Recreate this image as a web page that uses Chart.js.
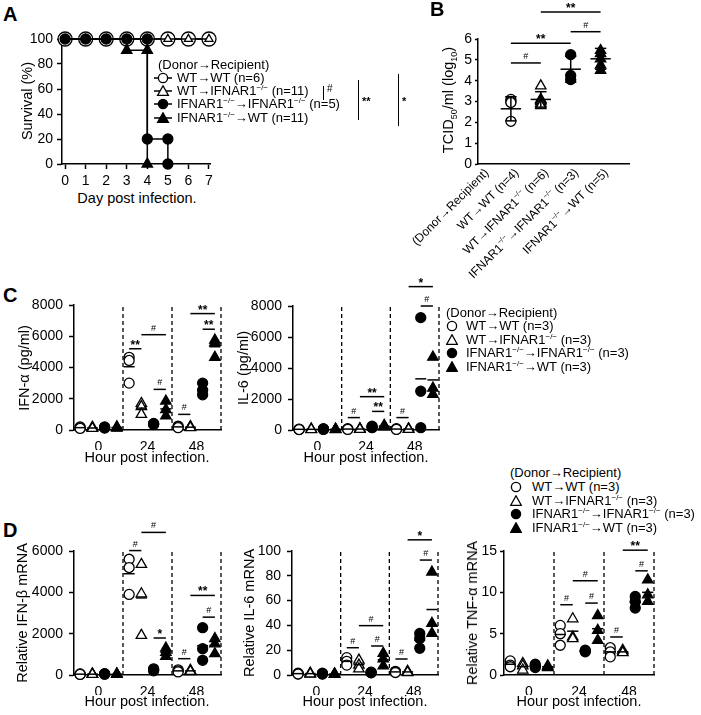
<!DOCTYPE html>
<html>
<head>
<meta charset="utf-8">
<script src="https://cdn.jsdelivr.net/npm/chart.js@4.4.1/dist/chart.umd.min.js"></script>
<style>
  body { margin: 0; background: #fff; }
  #fig { position: relative; width: 701px; height: 715px; overflow: hidden;
         font-family: 'Liberation Sans', Arial, sans-serif; font-size: 13px; color: #000; }
  #fig canvas { position: absolute; }
  .t { position: absolute; white-space: nowrap; line-height: 14px; }
  .yt { position: absolute; white-space: nowrap; line-height: 16px; font-size: 14.5px; transform: translate(-50%, -50%) rotate(-90deg); }
  .xt { position: absolute; white-space: nowrap; line-height: 16px; font-size: 14.5px; transform: translate(-50%, -50%); }
  .panel { position: absolute; font-weight: bold; font-size: 20px; line-height: 20px; }
  sup { font-size: 8px; vertical-align: 0; position: relative; top: -5px; }
  sub { font-size: 9px; vertical-align: 0; position: relative; top: 4px; }
  .sym { position: absolute; }
  .bar { position: absolute; border-left: 1.5px solid #000; }
  .star { position: absolute; font-size: 10px; line-height: 10px; }
  .star.b { font-weight: bold; font-size: 11px; }
</style>
</head>
<body>
<div id="fig"></div>
<script>
// ---- A: survival (%) after infection ----
const days = [0, 1, 2, 3, 4, 5, 6, 7];
const survWtWt = [100, 100, 100, 100, 100, 100, 100, 100];
const survWtKo = [100, 100, 100, 100, 100, 100, 100, 100];
const survKoKoDay = [0, 1, 2, 3, 4, 4, 5, 5];
const survKoKo = [100, 100, 100, 100, 100, 20, 20, 0];
const survKoWtDay = [0, 1, 2, 3, 3, 4, 4];
const survKoWt = [100, 100, 100, 100, 91, 91, 0];
const survLegend = ["WT→WT (n=6)", "WT→IFNAR1{−/−} (n=11)", "IFNAR1{−/−}→IFNAR1{−/−} (n=5)", "IFNAR1{−/−}→WT (n=11)"];

// ---- B: TCID50/ml (log10) ----
const titerCats = ["(Donor→Recipient)", "WT→WT (n=4)", "WT→IFNAR1{−/−} (n=6)", "IFNAR1{−/−}→IFNAR1{−/−} (n=3)", "IFNAR1{−/−}→WT (n=5)"];
const titerWtWt = [3.1, 3.0, 2.95, 2.05];
const titerWtKo = [3.75, 3.1, 3.05, 3.0, 2.9, 2.8];
const titerKoKo = [5.25, 4.25, 4.05];
const titerKoWt = [5.45, 5.3, 5.05, 4.75, 4.5];
const titerMean = [2.65, 3.1, 4.55, 5.05];
const titerSd = [0.58, 0.37, 0.62, 0.5];
const titerSig = [[1, 2, 4.85, "#"], [1, 3, 5.8, "**"], [3, 4, 6.35, "#"], [2, 4, 7.3, "**"]];

// ---- C / D: per group, values at 0 / 24 / 48 h ----
const hours = ["0", "24", "48"];
const groupLegend = ["WT→WT (n=3)", "WT→IFNAR1{−/−} (n=3)", "IFNAR1{−/−}→IFNAR1{−/−} (n=3)", "IFNAR1{−/−}→WT (n=3)"];

const ifnaWtWt = [[200, 150, 100], [4650, 4450, 3000], [250, 200, 150]];
const ifnaWtKo = [[180, 120, 100], [1700, 1500, 1000], [220, 180, 150]];
const ifnaKoKo = [[200, 160, 120], [420, 380, 350], [3000, 2550, 2250]];
const ifnaKoWt = [[200, 150, 120], [1850, 1300, 900], [5750, 5600, 4650]];
const ifnaMean = [[150, 4050, 200], [130, 1400, 180], [160, 380, 2600], [160, 1350, 5330]];
const ifnaSig = [[1, 0, 1, 5200, "**"], [1, 1, 3, 6100, "#"], [1, 2, 3, 2600, "#"], [2, 0, 1, 1000, "#"], [2, 1, 3, 7450, "**"], [2, 2, 3, 6450, "**"]];

const il6WtWt = [[60, 40, 30], [80, 60, 40], [80, 60, 40]];
const il6WtKo = [[60, 40, 30], [80, 60, 40], [80, 60, 40]];
const il6KoKo = [[80, 60, 40], [250, 200, 150], [7250, 2500, 150]];
const il6KoWt = [[60, 40, 30], [300, 250, 200], [4700, 2700, 2300]];
const il6Mean = [[45, 60, 60], [45, 60, 60], [60, 200, 3300], [45, 250, 3230]];
const il6Sig = [[1, 0, 1, 800, "#"], [1, 1, 3, 2150, "**"], [1, 2, 3, 1200, "**"], [2, 0, 1, 800, "#"], [2, 1, 3, 9250, "*"], [2, 2, 3, 8000, "#"]];

const ifnbWtWt = [[50, 40, 30], [5600, 5200, 3900], [250, 200, 150]];
const ifnbWtKo = [[50, 40, 30], [5350, 3930, 1920], [230, 200, 170]];
const ifnbKoKo = [[60, 50, 40], [300, 250, 200], [2290, 1270, 710]];
const ifnbKoWt = [[50, 40, 30], [1300, 1100, 900], [1760, 1510, 1030]];
const ifnbMean = [[40, 4900, 200], [40, 3730, 200], [50, 250, 1420], [40, 1100, 1430]];
const ifnbSig = [[1, 0, 1, 6020, "#"], [1, 1, 3, 6900, "#"], [1, 2, 3, 1790, "*"], [2, 0, 1, 790, "#"], [2, 1, 3, 3850, "**"], [2, 2, 3, 2800, "#"]];

const il6mWtWt = [[1.5, 1, 0.8], [14, 11, 8], [3, 2.5, 2]];
const il6mWtKo = [[1.5, 1, 0.8], [12, 8, 5], [3, 2.5, 2]];
const il6mKoKo = [[1.5, 1, 0.8], [2.2, 2, 1.8], [33.5, 29.5, 21.5]];
const il6mKoWt = [[1, 0.8, 0.6], [17.5, 13, 7.3], [83, 41.7, 33.6]];
const il6mMean = [[1.1, 11, 2.5], [1.1, 8.3, 2.5], [1.1, 2, 28], [0.8, 12.3, 52.8]];
const il6mSig = [[1, 0, 1, 22, "#"], [1, 1, 3, 39.8, "#"], [1, 2, 3, 23.4, "#"], [2, 0, 1, 12.9, "#"], [2, 1, 3, 109, "*"], [2, 2, 3, 92.7, "#"]];

const tnfWtWt = [[1.7, 1.2, 1.0], [6.0, 5.0, 3.6], [3.3, 2.8, 2.2]];
const tnfWtKo = [[1.4, 1.1, 0.6], [6.8, 4.6, 4.4], [3.0, 2.8, 2.7]];
const tnfKoKo = [[1.3, 1.1, 0.9], [3.0, 2.9, 2.8], [9.5, 8.9, 8.1]];
const tnfKoWt = [[1.1, 1.0, 0.9], [7.2, 5.4, 4.2], [11.5, 9.7, 8.9]];
const tnfMean = [[1.3, 4.9, 2.8], [1.0, 5.3, 2.8], [1.1, 2.9, 8.8], [1.0, 5.6, 10.0]];
const tnfSig = [[1, 0, 1, 8.5, "#"], [1, 1, 3, 11.4, "#"], [1, 2, 3, 8.7, "#"], [2, 0, 1, 4.6, "#"], [2, 1, 3, 15.1, "**"], [2, 2, 3, 12.6, "#"]];

// marker look of the four donor→recipient groups
const styles = [
  { shape: "circle", fill: false },
  { shape: "triangle", fill: false },
  { shape: "circle", fill: true },
  { shape: "triangle", fill: true },
];

const FONT = "'Liberation Sans', Arial, sans-serif";
Chart.defaults.font.family = FONT;
Chart.defaults.font.size = 14;
Chart.defaults.color = "#000";

const fig = document.getElementById("fig");

function rich(str) {
  return str.replace(/\{([^}]*)\}/g, "<sup>$1</sup>");
}

function addText(cls, html, left, top) {
  const d = document.createElement("div");
  d.className = cls;
  d.innerHTML = html;
  d.style.left = left + "px";
  d.style.top = top + "px";
  fig.appendChild(d);
  return d;
}

function symSvg(st, line) {
  const w = line ? 18 : 12, c = w / 2;
  const fill = st.fill ? "#000" : "#fff";
  const shape = st.shape === "circle"
    ? `<circle cx="${c}" cy="6" r="4.6" fill="${fill}" stroke="#000" stroke-width="1.3"/>`
    : `<polygon points="${c},0.8 ${c + 5.4},10.4 ${c - 5.4},10.4" fill="${fill}" stroke="#000" stroke-width="1.3"/>`;
  const ln = line ? `<line x1="0" y1="6" x2="${w}" y2="6" stroke="#000" stroke-width="1.5"/>` : "";
  return `<svg width="${w}" height="12" viewBox="0 0 ${w} 12">${ln}${shape}</svg>`;
}

function legend(labels, titleLeft, symCx, textLeft, titleY, rowYs, line) {
  addText("t", "(Donor→Recipient)", titleLeft, titleY - 7);
  labels.forEach((lab, i) => {
    const w = line ? 18 : 12;
    addText("sym", symSvg(styles[i], line), symCx - w / 2, rowYs[i] - 6);
    addText("t", rich(lab), textLeft, rowYs[i] - 7);
  });
}

// draws rich text (superscripts in {}) right-aligned at the origin
function drawRich(ctx, str, size) {
  const parts = str.split(/(\{[^}]*\})/).filter(Boolean).map((p) =>
    p[0] === "{" ? { t: p.slice(1, -1), sup: true } : { t: p, sup: false });
  const fontFor = (p) => `${p.sup ? Math.round(size * 0.62) : size}px ${FONT}`;
  let total = 0;
  parts.forEach((p) => { ctx.font = fontFor(p); p.w = ctx.measureText(p.t).width; total += p.w; });
  let x = -total;
  parts.forEach((p) => {
    ctx.font = fontFor(p);
    ctx.fillText(p.t, x, p.sup ? -size * 0.35 : 0);
    x += p.w;
  });
}

const extras = {
  id: "extras",
  afterDatasetsDraw(chart, args, o) {
    if (!o) return;
    const { ctx, chartArea: a } = chart;
    const x = chart.scales.x, y = chart.scales.y;
    ctx.save();
    ctx.strokeStyle = "#000";
    ctx.fillStyle = "#000";
    if (o.dashes) {
      ctx.setLineDash([4, 3]);
      ctx.lineWidth = 1.3;
      o.dashes.forEach((v) => {
        const px = x.getPixelForValue(v);
        ctx.beginPath(); ctx.moveTo(px, a.bottom); ctx.lineTo(px, a.top); ctx.stroke();
      });
      ctx.setLineDash([]);
    }
    ctx.lineWidth = 1.5;
    const hline = (x1, x2, yv) => {
      const py = y.getPixelForValue(yv);
      ctx.beginPath(); ctx.moveTo(x.getPixelForValue(x1), py); ctx.lineTo(x.getPixelForValue(x2), py); ctx.stroke();
    };
    (o.means || []).forEach(([xv, yv, half]) => hline(xv - half, xv + half, yv));
    (o.errs || []).forEach(([xv, m, sd]) => {
      hline(xv - 0.34, xv + 0.34, m);
      hline(xv - 0.19, xv + 0.19, m + sd);
      hline(xv - 0.19, xv + 0.19, m - sd);
      const px = x.getPixelForValue(xv);
      ctx.beginPath(); ctx.moveTo(px, y.getPixelForValue(m - sd)); ctx.lineTo(px, y.getPixelForValue(m + sd)); ctx.stroke();
    });
    (o.sig || []).forEach(([x1, x2, yv, lab]) => {
      hline(x1, x2, yv);
      ctx.font = lab === "#" ? `9px ${FONT}` : `bold 12px ${FONT}`;
      ctx.textAlign = "center";
      ctx.textBaseline = "alphabetic";
      const off = lab === "#" ? 4 : 0;
      ctx.fillText(lab, (x.getPixelForValue(x1) + x.getPixelForValue(x2)) / 2, y.getPixelForValue(yv) - off);
    });
    if (o.catLabels) {
      ctx.textBaseline = "middle";
      ctx.textAlign = "left";
      o.catLabels.forEach((lab, i) => {
        ctx.save();
        ctx.translate(x.getPixelForValue(i) + 6, a.bottom + 7);
        ctx.rotate(-Math.PI / 4);
        drawRich(ctx, lab, 12);
        ctx.restore();
      });
    }
    ctx.restore();
  },
};
Chart.register(extras);

function yAxis(min, max, step, width, tickLen, pad) {
  return {
    type: "linear", min, max,
    ticks: { stepSize: step, padding: pad, font: { size: 14 }, callback: (v) => String(v) },
    grid: { display: true, drawOnChartArea: false, drawTicks: true, tickLength: tickLen, tickWidth: 1.5, tickColor: "#000" },
    border: { display: true, color: "#000", width: 1.5 },
    afterFit(s) { s.width = width; },
  };
}

function xAxis(min, max, tickVals, labelFor, height, tickMarks) {
  return {
    type: "linear", min, max,
    afterBuildTicks(s) { s.ticks = tickVals.map((v) => ({ value: v })); },
    ticks: { display: !!labelFor, callback: (v) => (labelFor ? labelFor(v) : ""), padding: 4, autoSkip: false, maxRotation: 0, font: { size: 14 } },
    grid: { display: tickMarks, drawOnChartArea: false, drawTicks: true, tickLength: 5, tickWidth: 1.5, tickColor: "#000" },
    border: { display: true, color: "#000", width: 1.5 },
    afterFit(s) { s.height = height; },
  };
}

function points(xs, ys) {
  return ys.map((v, i) => ({ x: xs[i], y: v }));
}

function ds(data, st, extra) {
  return Object.assign({
    data,
    pointStyle: st.shape,
    pointRadius: st.shape === "triangle" ? 6 : 5,
    pointBackgroundColor: st.fill ? "#000" : "#fff",
    pointBorderColor: "#000",
    pointBorderWidth: 1.3,
    showLine: false,
    clip: false,
  }, extra || {});
}

// box = canvas [left, top, w, h]; area = chart area [left, right, top, bottom] in page pixels
function makeChart(box, area, datasets, scales, extrasOpts) {
  const cv = document.createElement("canvas");
  cv.width = box[2];
  cv.height = box[3];
  cv.style.left = box[0] + "px";
  cv.style.top = box[1] + "px";
  fig.appendChild(cv);
  return new Chart(cv, {
    type: "scatter",
    data: { datasets },
    options: {
      responsive: false, animation: false, devicePixelRatio: 1, events: [],
      layout: {
        padding: {
          left: area[0] - box[0] - scales.yW,
          right: box[0] + box[2] - area[1],
          top: area[2] - box[1],
          bottom: box[1] + box[3] - area[3] - scales.xH,
        },
      },
      plugins: { legend: { display: false }, tooltip: { enabled: false }, extras: extrasOpts },
      scales: { x: scales.x, y: scales.y },
    },
  });
}

// ---------- A ----------
{
  const line = { showLine: true, borderColor: "#000", borderWidth: 1.5 };
  const datasets = [
    ds(points(survKoKoDay, survKoKo), styles[2], Object.assign({ pointRadius: 5 }, line)),
    ds(points(survKoWtDay, survKoWt), styles[3], Object.assign({ pointRadius: [0, 0, 0, 0, 6, 6, 6] }, line)),
    ds(points(days, survWtKo), styles[1], Object.assign({ pointRadius: 4.6 }, line)),
    ds(points(days, survWtWt), styles[0], Object.assign({ pointRadius: 7 }, line)),
  ];
  makeChart([20, 20, 210, 170], [62, 210, 39, 164], datasets, {
    yW: 40, xH: 24,
    x: xAxis(-0.15, 7.05, days, (v) => String(v), 24, true),
    y: yAxis(0, 100, 20, 40, 5, 4),
  }, {});
  legend(survLegend, 158, 163, 177, 65, [78, 91, 104, 118], true);
  addText("bar", "", 323, 86).style.height = "14px";
  addText("star", "#", 327, 84);
  addText("bar", "", 358, 80).style.height = "40px";
  addText("star b", "**", 362, 96);
  addText("bar", "", 398, 74).style.height = "52px";
  addText("star b", "*", 402, 96);
}

// ---------- B ----------
{
  const groups = [titerWtWt, titerWtKo, titerKoKo, titerKoWt];
  const datasets = groups.map((vals, i) => ds(vals.map((v) => ({ x: i + 1, y: v })), styles[i]));
  makeChart([380, 0, 321, 300], [478, 629, 39, 164], datasets, {
    yW: 25, xH: 20,
    x: xAxis(-0.1, 4.95, [0, 1, 2, 3, 4], null, 20, false),
    y: yAxis(0, 6, 1, 25, 3, 3),
  }, {
    errs: titerMean.map((m, i) => [i + 1, m, titerSd[i]]),
    sig: titerSig,
    catLabels: titerCats,
  });
}

// ---------- C / D grouped panels ----------
function groupedPanel(box, area, yW, yMin, yMax, yStep, tickLen, pad, series, means, sig) {
  const datasets = series.map((vals, s) =>
    ds(vals.flatMap((arr, g) => arr.map((v) => ({ x: g * 4 + s + 0.5, y: v }))), styles[s]));
  return makeChart(box, area, datasets, {
    yW, xH: 20,
    x: xAxis(0, 12, [2, 6, 10], (v) => hours[(v - 2) / 4], 20, false),
    y: yAxis(yMin, yMax, yStep, yW, tickLen, pad),
  }, {
    dashes: [4, 8, 12],
    means: means.flatMap((row, s) => row.map((m, g) => [g * 4 + s + 0.5, m, 0.45])),
    sig: sig.map(([g, a, b, yv, lab]) => [g * 4 + a + 0.5, g * 4 + b + 0.5, yv, lab]),
  });
}

groupedPanel([20, 280, 210, 170], [74, 221, 305, 430], 50, 0, 8000, 2000, 5, 6,
  [ifnaWtWt, ifnaWtKo, ifnaKoKo, ifnaKoWt], ifnaMean, ifnaSig);
groupedPanel([240, 270, 210, 180], [293, 439, 306, 430], 50, 0, 8000, 2000, 5, 6,
  [il6WtWt, il6WtKo, il6KoKo, il6KoWt], il6Mean, il6Sig);
groupedPanel([20, 510, 210, 185], [74, 221, 551, 675], 50, 0, 6000, 2000, 5, 6,
  [ifnbWtWt, ifnbWtKo, ifnbKoKo, ifnbKoWt], ifnbMean, ifnbSig);
groupedPanel([240, 510, 210, 185], [292, 438, 551, 675], 50, 0, 100, 20, 5, 6,
  [il6mWtWt, il6mWtKo, il6mKoKo, il6mKoWt], il6mMean, il6mSig);
groupedPanel([440, 530, 230, 165], [504, 654, 551, 675], 50, 0, 15, 5, 4, 3,
  [tnfWtWt, tnfWtKo, tnfKoKo, tnfKoWt], tnfMean, tnfSig);

legend(groupLegend, 446, 452, 466, 313, [326, 340, 353, 367], false);
legend(groupLegend, 510, 516, 532, 473, [487, 501, 514, 528], false);

// ---------- titles ----------
addText("panel", "A", 3, 4);
addText("panel", "B", 430, -1);
addText("panel", "C", 3, 285);
addText("panel", "D", 3, 520);

addText("yt", "Survival (%)", 27, 101);
addText("xt", "Day post infection.", 137, 198);
addText("yt", "TCID<sub>50</sub>/ml (log<sub>10</sub>)", 449, 100);
addText("yt", "IFN-α (pg/ml)", 24, 368);
addText("yt", "IL-6 (pg/ml)", 243, 368);
addText("xt", "Hour post infection.", 147, 457);
addText("xt", "Hour post infection.", 366, 457);
addText("yt", "Relative IFN-β mRNA", 22, 613);
addText("yt", "Relative IL-6 mRNA", 249, 613);
addText("yt", "Relative TNF-α mRNA", 472, 613);
addText("xt", "Hour post infection.", 147, 701);
addText("xt", "Hour post infection.", 365, 701);
addText("xt", "Hour post infection.", 579, 701);
</script>
</body>
</html>
